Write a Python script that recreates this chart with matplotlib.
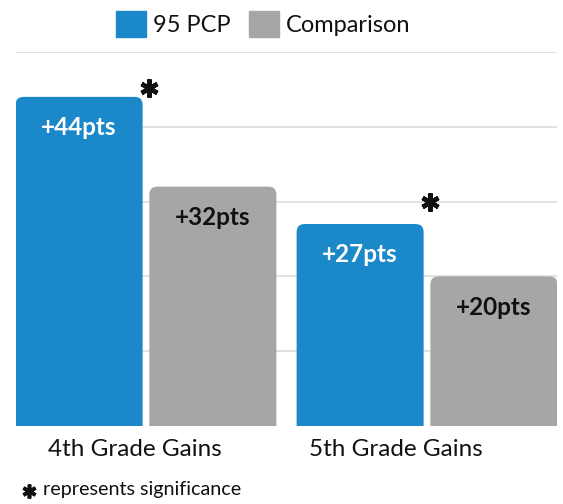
import numpy as np
import matplotlib
matplotlib.use("Agg")
import matplotlib.pyplot as plt
import matplotlib.patches as mpatches
from matplotlib.patches import FancyBboxPatch

plt.rcParams['font.family'] = ['Lato', 'DejaVu Sans']

# data
groups = ["4th Grade Gains", "5th Grade Gains"]
pcp = [44, 27]
comparison = [32, 20]
series_names = ["95 PCP", "Comparison"]
significant = [True, True]

blue = "#1a88c9"
grey = "#a6a6a6"

fig = plt.figure(figsize=(5.63, 5.04), dpi=100)
ax = fig.add_axes([16 / 563, 78 / 504, 541 / 563, 374 / 504])

x = np.arange(len(groups))
w = 0.452
off = 0.238
b1 = ax.bar(x - off, pcp, w, color=blue)
b2 = ax.bar(x + off, comparison, w, color=grey)

ax.set_xlim(-0.4626, 1.4626)
ax.set_ylim(0, 50)

# swap plain bars for bars with rounded top corners
rx = 0.028
ry = 1.07
for cont in (b1, b2):
    for r in cont.patches:
        fb = FancyBboxPatch((r.get_x(), -3), r.get_width(), r.get_height() + 3,
                            boxstyle=f"round,pad=0,rounding_size={rx}",
                            mutation_aspect=ry / rx,
                            facecolor=r.get_facecolor(), edgecolor="none", zorder=2)
        r.set_visible(False)
        ax.add_patch(fb)

# value labels
for cont, col in ((b1, "white"), (b2, "#111111")):
    for r, v in zip(cont.patches, cont.datavalues):
        ax.annotate(f"+{v:g}pts", (r.get_x() + r.get_width() / 2, v),
                    xytext=(0, -14), textcoords="offset points",
                    ha="center", va="top", fontsize=17.5, fontweight="bold",
                    color=col, zorder=3)

# significance stars
star_y = [45.2, 30.0]
for i, sig in enumerate(significant):
    if sig:
        ax.plot(x[i] + 0.01, star_y[i], marker=(6, 2, 0), markersize=13,
                markeredgewidth=3.2, color="#111111", clip_on=False, zorder=4)

ax.set_yticks([10, 20, 30, 40, 50])
ax.yaxis.grid(True, color="#dddddd", linewidth=1.2)
ax.set_axisbelow(True)
ax.tick_params(axis="y", left=False, labelleft=False)
ax.set_xticks([-0.04, 0.89])
ax.set_xticklabels(groups, fontsize=17.5, color="#111111")
ax.tick_params(axis="x", length=0, pad=9)
for s in ax.spines.values():
    s.set_visible(False)

handles = [mpatches.Patch(color=blue), mpatches.Patch(color=grey)]
fig.legend(handles, series_names, loc="center", bbox_to_anchor=(0.468, 1 - 24 / 504),
           ncol=2, frameon=False, fontsize=17, handlelength=1.27, handleheight=1.36,
           handletextpad=0.3, columnspacing=0.76, borderpad=0, labelcolor="#111111")

# footnote
fig.lines.append(plt.Line2D([29 / 563], [1 - 491 / 504], transform=fig.transFigure,
                            marker=(6, 2, 0), markersize=10, markeredgewidth=2.6,
                            color="#111111"))
fig.text(43 / 563, 1 - 489 / 504, "represents significance", fontsize=14.2,
         color="#111111", va="center", ha="left")

fig.savefig("out.png", dpi=100)
